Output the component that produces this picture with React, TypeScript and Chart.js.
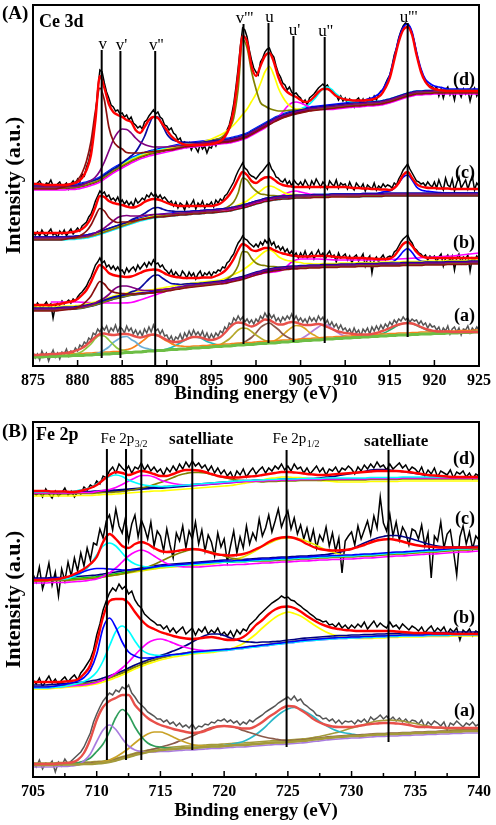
import React, { useEffect, useRef } from "react";
import { Chart, registerables } from "chart.js";

Chart.register(...registerables);

const SERIF = '"Liberation Serif", "Times New Roman", Times, serif';

/* ======================= Panel (A): Ce 3d ======================= */
const CE_MIN = 875;
const CE_MAX = 925;
const CE_GRID_STEP = 0.5; // fit / background / component grid (eV)
const CE_RAW_STEP = 0.25; // measured data step (eV)

// ---- spectrum (d)
const ceD_raw = [
  184,180,183,185,181,179,183,182,186,180,178,182,184,179,181,183,177,182,185,181,
  187,184,192,190,199,205,216,232,250,276,296,294,283,274,268,261,259,255,256,252,
  253,249,251,246,249,243,241,238,240,237,244,246,250,253,256,252,254,249,247,241,
  240,236,238,233,231,226,228,222,224,219,223,216,221,218,214,222,217,220,213,219,
  218,224,220,226,223,229,231,236,241,250,262,279,298,320,338,336,329,316,306,298,
  294,291,304,308,314,317,318,312,309,300,293,289,283,281,276,279,274,272,273,270,
  268,263,266,261,268,270,272,275,278,280,282,279,281,277,276,273,271,266,270,265,
  268,262,267,264,259,266,268,263,267,261,265,268,264,270,266,272,275,276,282,287,
  291,300,311,318,328,335,340,343,342,339,333,324,313,303,296,290,285,282,280,279,
  277,279,270,277,268,276,279,271,275,266,278,274,269,277,272,276,265,274,278,270,275,
];
const ceD_fit = [
  182,182,181.5,181,181,181,181,181,181.5,182.5,
  184,188,196,211,246,290,278,262,254,251,
  249,246,244,236,233,239,246,249,248,242,
  236,230,226,223,221.5,221,221,221,221,221.5,
  222,223,225,229,238,256,291,330,324,300,
  290,300,310,313,304,289,279,274,271,269,
  266,264,265,269,274,277,277,274,270,268,
  266.5,266,265.5,265.5,265.5,266,266.5,268,271,278,
  288,306,324,336,339,331,311,294,284,279,
  277,276,275.5,275,275,275,275,275,275,275,275,
];
const ceD_bg = [
  178,178,178,178,178,178,178,178,178.5,178.5,
  179,180,181,182.5,184,186,189,192,195,197.5,
  200,202.5,205,207,209,210.5,212,213,214,215,
  216,217,218,219,220,220.5,221,221.5,222,222.5,
  223,223.5,224,224.5,225,226,227,228.5,230,232.5,
  235,237.5,240,242.5,245,247,249,250.5,252,253,
  254,255,256,256.5,257,257.5,258,258.5,259,259.5,
  260,260.5,261,261,261.5,262,262,262.5,263,264,
  265,266.5,268,269.5,271,272,273,273,273.5,273.5,
  274,274,274,274,274,274,274,274,274,274,274,
];
const ceD_v = [1,2,3,5,8,14,25,43,72,93,78,48,31,23,18,12,9,7,5,4,3,2.5,2,1.5,1];
const ceD_v1 = [1,2,4,8,14,22,30,35,36,33,27,20,14,10,7,5,4,3,2,1.5,1,0.5,0];
const ceD_v2 = [1,2,3,5,10,17,27,34,33,24,14,8,5,3,2,1,0.5];
const ceD_v3 = [0.5,1,1.5,2,3,4,7,12,22,50,98,88,62,42,26,20,15,11,8,6,5,4,3,2,1.5,1];
const ceD_u = [1,2,3,4.5,6,8,11,14,18,22,26,31,36,44,53,56,45,30,19,11,6,3,2,1,0.5];
const ceD_u1 = [1,2,4,7,11,13,13,11,8,5,3,2,1,0.5];
const ceD_u2 = [1,2,4,8,13,18,19,16,11,7,4,2,1];
const ceD_u3 = [1,2,3,5,8,14,23,39,56,66,68,59,38,21,10,6,3,2,1];

// ---- spectrum (c)
const ceC_raw = [
  135,131,134,130,136,132,129,134,137,131,133,128,135,132,136,130,134,137,132,135,
  138,135,140,142,144,149,152,158,165,170,175,172,174,169,171,166,168,165,169,163,
  166,162,165,161,164,160,167,163,165,168,166,171,169,173,170,172,168,171,167,169,
  166,163,165,160,164,158,163,161,156,164,159,162,166,157,163,160,165,158,162,161,
  164,159,166,163,167,165,170,172,176,180,184,190,195,199,203,198,196,192,190,189,
  187,190,193,195,198,201,203,197,194,189,188,185,184,187,182,185,180,186,183,181,
  184,180,186,182,178,185,181,187,183,179,184,181,177,185,182,180,186,178,183,181,
  182,177,184,179,176,183,180,178,182,175,181,179,177,183,176,180,178,182,179,181,
  180,178,183,181,187,191,196,199,202,197,193,189,185,184,182,183,180,184,181,179,
  184,178,186,180,176,188,181,179,187,175,183,189,178,182,186,177,184,190,176,183,180,
];
const ceC_fit = [
  133,133,133,133,133,133,133,133,133.5,134,
  135,137,141,148,159,170,169,165,163,162,
  161,159.5,158.5,159,161,164,166,167,166.5,165,
  163,161.5,160.5,160,160,160,160,160,160,160,
  160,161,162.5,166,171,178,187,194,191,185,
  183,186,188.5,189,186.5,183,181,180,179.5,179,
  179,179,179,179,179,179,179,179,179,179,
  179,178.5,178,178,177.5,177.5,177,177,176.5,176.5,
  176,178,183,191,194,188,182,179.5,178.5,178,
  178,177.5,177.5,177.5,177,177,177,177,177,177,177,
];
const ceC_bg = [
  127,127,127,127,127,127,127,127,127.5,127.5,
  128,128.5,129,130,131,132.5,134,135.5,137,138.5,
  140,141.5,143,144.5,146,147,148,149,149.5,150,
  150.5,151,151.5,152,152,152.5,153,153,153.5,154,
  154,154.5,155,155.5,156,157,158,159,160,161.5,
  163,164,165.5,166,167,167.5,168,168,168.5,169,
  169,169,169,169.5,169.5,169.5,169.5,170,170,170,
  170,170,170,170,170.5,170.5,170.5,170.5,170.5,171,
  171,171,171,171,171,171,171,171,171,171,
  171,171,171,171,171,171,171,171,171,171,171,
];
const ceC_v = [0.5,1,1.5,2,4,7,12,20,26,22,14,9,6,5,3.5,2.5,2,1.5,1.2,1,0.7,0.5];
const ceC_v1 = [1,2,3,5,7,9,9,8,6,4.5,3,2.5,2,1.5,1,0.7,0.5];
const ceC_v2 = [1,1.5,2,3.5,5.5,7,7,5,3,2,1,0.5,0.3];
const ceC_v3 = [0.5,1,2,4,7,15,29,26,18,12,8,6,4.5,3.5,2.5,2,1.5,1,0.7,0.5];
const ceC_u = [1,2,3,4,6,8,10,12,13,11,8,5,3,2,1.5,1,0.5];
const ceC_u1 = [1,2,3,5,6,6,5,4,3,2,1.5,1,0.5];
const ceC_u2 = [1,1.5,2.5,3,3,2.5,1.5,1,0.5];
const ceC_u3 = [1,1.5,2,5,10,16,18,13,6,3,2,1.5,1,0.5];

// ---- spectrum (b)
const ceB_raw = [
  62,58,63,60,57,61,64,59,62,48,60,63,61,65,62,64,66,63,67,65,
  69,72,74,77,80,85,89,95,101,104,108,103,105,99,101,97,100,96,99,95,
  96,92,98,94,97,99,95,101,97,100,103,99,104,101,106,102,103,99,101,97,
  95,92,96,90,94,91,89,95,92,88,94,90,93,87,92,95,89,93,91,94,
  90,94,93,96,95,99,98,103,105,109,112,118,123,126,130,127,126,123,121,119,
  122,119,124,121,126,123,127,121,124,118,120,116,119,114,117,112,115,110,113,108,
  113,109,115,108,111,114,107,112,116,110,113,106,112,115,109,111,104,113,108,110,
  112,106,110,103,109,111,105,108,112,100,107,110,93,106,109,104,108,111,106,109,
  110,109,114,116,120,124,127,129,131,126,123,118,116,113,112,109,111,106,110,108,
  110,104,109,112,100,108,111,105,110,96,108,112,103,109,107,111,95,108,106,110,107,
];
const ceB_fit = [
  61,61,61,61,61,61.5,62,63,64,65,
  67,71,76,84,94,101,98,93,91,90,
  89.5,89,89.5,91,93,95,96,96.5,96,94,
  91.5,90,89,88.5,88,88,88,88,88.5,88.5,
  88.5,90,92,95,100,107,116,122,120,116,
  115,116.5,118,118,116,114,112.5,111.5,110.5,110,
  109.5,109.5,109.5,110,110,110,110,109.5,109,108.5,
  108.5,108,108,108,108,107.5,107.5,107,107,107,
  107.5,110,116,122,124,120,114,110,108.5,108,
  108,108,108,108,108,108,108,108,108,108,108,
];
const ceB_bg = [
  56,56,56,56,56,56,56.5,57,57,57,
  57.5,58,59,60,61,62.5,64,65.5,67,68,
  69,70,71,71.5,72,72.5,73,73.5,74.5,75,
  76,76.5,77.5,78,79,79.5,80,80.5,81,81.5,
  82,82.5,83,83.5,84.5,85.5,86.5,87.5,89,90.5,
  92,93,94.5,95,96,96.5,97,97.5,98,98,
  98.5,98.5,99,99,99,99.5,99.5,99.5,99.5,100,
  100,100,100,100.5,100.5,100.5,100.5,100.5,101,101,
  101,101,101,101.5,101.5,101.5,101.5,101.5,102,102,
  102,102,102,102.5,102.5,102.5,102.5,102.5,103,103,103,
];
const ceB_v = [0.5,1,2,4,7,11,18,23,19,12,8,6,4.5,3,2,1.7,1.5,1.2,1,0.7,0.5];
const ceB_v1 = [1,2,3,5,8,10,10,9,7,5,3,2,1.5,1,0.7,0.5];
const ceB_v2 = [1,2,4,8,12,15,14.5,11,7,4,2.5,1.5,1,0.7,0.5];
const ceB_v3 = [0.5,1,2,4,7,14,27,25,17,11,8,6,4.5,3.5,2.5,2,1.5,1,0.7,0.5];
const ceB_u = [1,2,3,4,5.5,7,9,12,15,17,18,15,10,7,5,4,3,2,1,0.5];
const ceB_u3 = [1,1.5,3,7,12,15,11,5,2.5,1.5,1,0.5];
// broad magenta (u') line of (b), 1 eV steps from 877 eV
const ceB_mag = [
  64,64,64,64,63.5,63,63,63,63,63.5,66,69,72,75,77,78.5,79.5,80.5,81.5,83,
  85,87,89,91,93,94,96,104,107,107,107,106.5,106,106,106,106,106,106,106.5,107,
  107.5,108,108.5,109,109.5,110,111,112,113,
];

// ---- spectrum (a)
const ceA_raw = [
  14,8,12,6,15,10,13,5,11,16,9,13,7,14,12,17,10,15,13,18,
  15,21,19,24,22,28,26,33,31,37,34,39,36,40,33,38,35,41,34,39,
  37,33,40,35,38,32,36,31,35,30,37,33,39,34,41,35,37,32,36,30,
  31,26,30,24,29,27,32,26,33,29,35,30,36,31,34,30,35,28,33,27,
  32,28,33,30,35,33,39,36,43,41,48,45,50,46,49,44,47,43,46,42,
  47,44,50,47,53,49,52,48,51,45,48,44,49,46,50,47,52,46,50,45,
  48,44,47,43,49,45,48,44,50,46,49,42,46,40,44,39,42,37,41,36,
  38,34,37,32,38,33,36,30,37,34,38,32,39,35,40,36,41,37,42,39,
  44,41,46,43,47,45,49,46,48,44,47,45,46,42,45,41,43,38,42,39,
  40,36,39,33,38,35,40,32,37,39,34,38,31,37,36,40,33,38,35,39,36,
];
const ceA_fit = [
  11,11,11.5,11.5,12,12,12.5,13,13.5,14.5,
  16,18,21,25,29,32,32.5,31.5,31,31.5,
  32,32,31,29.5,28.5,29.5,31,31.5,30.5,28.5,
  26,24.5,24,24.5,26,28,29,29,28,26.5,
  26,27,29,33,38,42,43.5,43,41,39.5,
  41,44,46.5,46,43.5,41.5,41.5,43,44,43.5,
  42,41,41,41.5,42,41,39,37,35,34,
  33,32.5,32,31.5,31.5,31.5,32,33,34.5,36,
  38,40,41.5,42.5,43,42.5,41,39,37,36,
  35,34.5,34.5,34.5,34,34,34,34,34,34,34,
];
const ceA_bg = [
  9,9,9,9.5,9.5,9.5,10,10,10,10.5,
  10.5,10.5,11,11,11.5,11.5,12,12,12.5,12.5,
  13,13.5,13.5,14,14,14.5,15,15,15.5,15.5,
  16,16.5,16.5,17,17,17.5,18,18,18.5,18.5,
  19,19.5,19.5,20,20,20.5,21,21,21.5,21.5,
  22,22.5,22.5,23,23,23.5,24,24,24.5,24.5,
  25,25.5,25.5,26,26,26.5,27,27,27.5,27.5,
  28,28,28.5,28.5,29,29,29.5,29.5,30,30,
  30.5,30.5,31,31,31,31.5,31.5,32,32,32,
  32.5,32.5,32.5,33,33,33,33.5,33.5,33.5,34,34,
];
const ceA_p1 = [1,2,4,7,11,16,19,18,14,9,5,3,1.5,0.5];
const ceA_p2 = [0.5,1,2,4,7,11,14,16,16,13,10,6,3.5,2,1,0.5];
const ceA_p3 = [0.5,1,2,4,7,10,13,14,13,10,7,4,2,1,0.5];
const ceA_p4 = [0.5,1,2,4,6,8.5,10.5,11,10.5,8.5,6,4,2,1,0.5];
const ceA_p5 = [0.5,1,2,4,7,11,15,17,16,13,9,5.5,3,1.5,0.5];
const ceA_p6 = [0.5,1,2,4,7,11,16,19,20,17,13,8,5,2.5,1,0.5];
const ceA_p7 = [0.5,1,2,4,7,11,14,16,15,12,8,5,2.5,1,0.5];
const ceA_p8 = [0.5,1,2,4,7,10,13,15,14,11,7,4,2,1,0.5];
const ceA_p9 = [0.5,1,2,3.5,5.5,8,10,11.5,12,11,9,6.5,4.5,2.5,1.5,0.5];

const ceMarkerE = [882.7, 884.8, 888.7, 898.6, 901.4, 904.2, 907.7, 917.0];
const ceMarkerLabel = ["v", "v'", "v''", "v'''", "u", "u'", "u''", "u'''"];
const ceMarkerTop = [316, 315, 315, 342, 343, 330, 329, 343];
const ceMarkerBot = [8, 8, 1, 22, 23, 24, 23, 29];
const ceSeriesLabel = ["(d)", "(c)", "(b)", "(a)"];
const ceSeriesLabelY = [281, 188, 118, 45];

/* ======================= Panel (B): Fe 2p ======================= */
const FE_MIN = 705;
const FE_MAX = 740;
const FE_GRID_STEP = 0.5;
const FE_RAW_STEP = 0.25;

// ---- spectrum (d)
const feD_raw = [
  287,282,285,280,288,283,279,286,281,284,289,282,286,280,285,283,290,287,292,290,
  296,293,301,299,306,310,304,313,309,306,311,304,310,308,314,307,312,306,310,305,
  308,302,309,305,311,306,313,308,315,310,316,311,314,309,312,306,311,304,309,303,
  307,301,305,298,306,302,308,300,305,309,303,307,310,304,309,306,311,308,313,307,
  311,306,313,308,310,304,309,303,307,311,305,309,302,308,306,310,304,309,307,311,
  308,303,310,306,312,308,313,309,315,310,312,307,313,308,311,314,309,312,306,310,
  308,304,310,301,307,303,309,300,306,304,302,307,299,305,303,306,300,304,298,303,
  301,
];
const feD_fit = [
  286,286,286,285.5,285.5,285.5,285,285.5,287,289,
  292,297,302,305,304,302,304,306,305,303,
  301,301,303,305.5,307,307,306.5,305,303,301,
  300,299.5,299.5,300,300.5,301,302,303,304,305,
  305,304.5,304,303,302.5,302,302,302.5,303,303.5,
  304,304.5,305,305.5,306,306,306,306,305.5,305,
  304,303,302,301.5,301,300.5,300,300,300,300,
  300,
];
const feD_bg = [
  284,284,284,284,284,284,284,284.5,284.5,284.5,
  285,285.5,285.5,286,286.5,287,287.5,288,288.5,289,
  289,289.5,290,290.5,291,291.5,292,292.5,293,293.5,
  294,294.5,295,295.5,295.5,296,296,296.5,296.5,297,
  297,297,297.5,297.5,297.5,297.5,298,298,298,298,
  298,298,298,298.5,298.5,298.5,298.5,298.5,299,299,
  299,299,299,299,299,299,299,299,299,299,
  299,
];
const feD_p1 = [0.5,1,2,4,7,11,14,15,13,9,6,3.5,2,1,0.5];
const feD_p2 = [0.5,1,2,3.5,6,9,11.5,13.5,13,11,8,5.5,3.5,2,1,0.5];
const feD_p3 = [0.5,1,2,3,4.5,6.5,8.5,10.5,12.5,13.5,14,13.5,12.5,10.5,8.5,6.5,4.5,3,2,1,0.5];
const feD_p4 = [0.5,1,2,3,4,5,5.5,6,6,5.5,5,4,3,2,1,0.5];
const feD_p5 = [0.5,1,1.5,2.5,3.5,4.5,5.5,6.5,7.5,8,8,7.5,6.5,5.5,4.5,3.5,2.5,1.5,1,0.5];

// ---- spectrum (c)
const feC_raw = [
  203,195,210,188,199,214,192,205,181,208,196,215,201,219,206,224,211,229,217,234,
  232,248,239,256,262,247,268,251,244,259,236,253,262,240,257,249,238,255,231,246,
  241,226,248,232,219,244,236,251,229,246,238,255,233,247,226,242,235,221,244,230,
  238,215,231,246,224,240,229,251,233,244,237,258,241,249,262,245,256,268,250,259,
  266,248,259,243,252,238,249,234,247,229,242,236,250,231,244,226,239,204,236,241,
  245,232,251,238,247,256,242,261,249,280,254,246,263,241,255,237,250,244,232,248,
  246,238,252,231,244,199,241,236,255,229,243,247,226,202,240,251,233,245,228,241,
  237,
];
const feC_fit = [
  197,197,197,197.5,198,199.5,201.5,204.5,208,213,
  220,235,243,238,231,229,233,235,233,229,
  226,225,225.5,226.5,227.5,228,227.5,226,224,222.5,
  222,221.5,222,223,225,228,231,235,238,239.5,
  240,239,236.5,233,230,228,227,226.5,226.5,227,
  228,230,232,234.5,236.5,237.5,238,237,235.5,233.5,
  232,231,230.5,230,229.5,229.5,229.5,229.5,229.5,229.5,
  229.5,
];
const feC_bg = [
  197,197,197,197.5,197.5,197.5,198,198.5,199,199.5,
  200,201,202,203,204,205,206,207,208,209,
  210,210.5,211,211.5,212,212.5,213,213.5,214,214.5,
  215,215,215.5,215.5,216,216.5,217,217,217.5,218,
  218,218.5,219,219,219.5,220,220,220.5,220.5,221,
  221,221.5,222,222,222.5,223,223.5,224,224,224.5,
  225,225.5,226,226,226.5,227,227.5,228,228,228.5,
  229,
];
const feC_p0 = [0.5,1,2,3.5,5.5,7,7.5,6.5,5,3.5,2,1,0.5];
const feC_p1 = [0.5,1.5,3.5,7,13,22,30,32,28,20,12,7,4,2,1,0.5];
const feC_p2 = [0.5,1,2.5,5,9,14,19,22,23,20,15,10,6,3.5,2,1,0.5];
const feC_p3 = [0.5,1,2,3,4.5,6.5,9,11.5,13.5,15,16,15.5,14,12,9.5,7,5,3.5,2,1,0.5];
const feC_p4 = [0.5,1,2,3.5,5.5,8,11,14.5,17.5,20,21.5,22,21.5,20,17.5,14.5,11,8,5.5,3.5,2,1,0.5];
const feC_p5 = [0.5,1,2,3.5,5,7.5,10,12.5,14.5,15.5,16,15.5,14.5,12.5,10,7.5,5,3.5,2,1,0.5];

// ---- spectrum (b)
const feB_raw = [
  97,93,99,90,96,101,94,98,92,97,100,95,99,102,97,104,108,113,118,127,
  142,153,167,176,184,189,186,193,188,191,183,186,177,172,169,163,160,157,155,152,
  152,148,151,145,149,144,147,150,143,146,149,142,148,145,150,143,147,144,149,142,
  145,141,146,140,147,143,148,146,152,155,158,162,165,168,171,174,176,178,181,179,
  180,177,176,173,171,168,166,163,161,158,157,155,156,152,153,150,154,149,152,148,
  152,149,153,150,155,148,152,156,150,154,151,149,155,150,152,148,153,150,147,151,
  149,146,150,144,148,151,145,149,146,150,143,148,145,149,137,147,144,148,141,146,
  144,
];
const feB_fit = [
  95,95,95,95,95,95.5,96,97.5,103,112,
  134,160,176,178,178,174,165,157,151,148,
  145,143,141,139.5,138.5,138,138.5,139.5,140,139,
  137.5,137,137.5,140,145,152,157,163,167.5,170,
  170.5,169,165.5,161,157,153.5,151,149,148,147,
  146.5,146,146,146,146,146,146,145.5,145,144.5,
  144,144,144,143.5,143.5,143.5,143,143,143,143,
  143,
];
const feB_bg = [
  90,90,90,90.5,91,91.5,92,92.5,93,94,
  95,97,99,101.5,104,107,110,112.5,115,117,
  119,120.5,122,123,124,125,125.5,126,126.5,127,
  127.5,128,129,129.5,130.5,131,132,132.5,133.5,134,
  135,135.5,136.5,137,137.5,138,138.5,139,139.5,139.5,
  140,140,140.5,140.5,141,141,141.5,141.5,142,142,
  142,142,142.5,142.5,142.5,142.5,143,143,143,143,
  143,
];
const feB_p1 = [0.5,1,2,3.5,6.5,13,28,52,60,48,31,18,11,6.5,4,2.5,1.5,1,0.5];
const feB_p2 = [1,2,3.5,6,11,20,33,45,48,40,27,16,9.5,6,3.5,2,1,0.5];
const feB_p3 = [0.5,1,2,3.5,6,9,13,17,20,21,20,17,13,9.5,6.5,4,2.5,1.5,1,0.5];
const feB_p4 = [0.5,1,2,3.5,5.5,8,11,13.5,14.5,14,12,9,6,4,2.5,1.5,1,0.5];
const feB_p5 = [0.5,1,2,3.5,6,9.5,14,19,24,28,31,32,30,26.5,22,17,12.5,8.5,5.5,3.5,2,1,0.5];

// ---- spectrum (a)
const feA_raw = [
  15,10,17,8,14,12,16,5,15,11,18,13,16,19,22,25,30,37,44,55,
  63,70,76,80,84,82,87,85,90,88,92,84,80,75,72,69,65,63,61,58,
  58,55,57,53,55,51,54,50,52,49,53,48,51,50,53,52,55,54,57,56,
  58,55,57,54,56,52,55,53,57,55,58,60,62,65,67,69,71,74,76,78,
  80,77,81,76,78,73,71,68,66,62,61,58,59,56,58,54,57,53,56,55,
  56,53,57,55,58,54,60,57,59,62,58,61,57,60,56,59,55,58,54,57,
  56,53,57,50,55,52,56,54,51,55,47,54,52,56,53,50,54,52,55,51,
  53,
];
const feA_fit = [
  13,13,13,13,13.5,14,14.5,17,24,38,
  57,70,76,79,82,82,72,65,59,55,
  52,50,48,46.5,45,44,44.5,46,48.5,50.5,
  51,50.5,49.5,48.5,48.5,51,55,60,64,68.5,
  71,70.5,67,63,58,54.5,52,50.5,50,50,
  50,51,52,53,53.5,54,54,53.5,53,52,
  50.5,50,50,49.5,49.5,49,49,49,49,49,
  49,
];
const feA_bg = [
  12,12,12,12,12.5,12.5,12.5,12.5,13,13,
  13.5,14,15,16.5,18.5,20,22,23.5,25,26,
  27,27.5,28,28.5,29,29,29.5,30,30.5,30.5,
  31,31.5,32,32,32.5,33,33.5,34,34.5,34.5,
  35,35.5,36,36.5,37.5,38,39,39.5,40,40.5,
  41,41,41.5,42,42.5,42.5,43,43,43.5,43.5,
  44,44,44.5,44.5,45,45,45.5,45.5,46,46,
  46,
];
const feA_p1 = [0.5,1.5,5,12,24,35,39,33,22,13,7,4,2,1,0.5];
const feA_p2 = [0.5,1.5,3,6,12,19,30,43,49,42,28,17,9,5,3,1.5,0.5];
const feA_p3 = [0.5,1,2,3.5,5.5,8.5,12,15.5,18,19,18,15.5,12,8.5,5.5,3.5,2,1,0.5];
const feA_p4 = [0.5,1,2,3,4.5,6.5,8.5,11,13.5,16,18,19,19,18,16,13.5,11,8.5,6,4,2.5,1.5,0.5];
const feA_p5 = [0.5,1,2,3.5,6,9.5,14,19.5,25,30,33,34,32,28,23,17.5,12.5,8.5,5.5,3.5,2,1,0.5];
const feA_p6 = [0.5,1,2,3,4.5,6,7.5,9,10.5,11.5,12,12,11.5,10.5,9,7.5,6,4.5,3,2,1,0.5];

const feMarkerE = [710.8, 712.3, 713.5, 717.5, 724.9, 732.9];
const feMarkerTop = [328, 328, 328, 328, 327, 327];
const feMarkerBot = [17, 17, 17, 27, 30, 35];
const feSeriesLabel = ["(d)", "(c)", "(b)", "(a)"];
const feSeriesLabelY = [313, 253, 154, 61];
const feNoteText = ["Fe 2p", "satelliate", "Fe 2p", "satelliate"];
const feNoteSub = ["3/2", "", "1/2", ""];
const feNoteE = [710.3, 718.2, 723.8, 733.5];
const feNoteY = [334, 333, 334, 331];

/* ======================= builders ======================= */
type Comp = { h: number[]; start: number; color: string; off: number };
type Spec = {
  raw: number[]; fit: number[]; bg: number[]; comps: Comp[];
  rawColor: string; fitColor: string; bgColor: string; bgWidth: number; bgOnTop?: boolean;
  extra?: { vals: number[]; start: number; step: number; color: string }[];
};

function pts(arr: number[], start: number, step: number) {
  return arr.map((v, i) => ({ x: start + i * step, y: v }));
}

function buildDatasets(specs: Spec[], gridStart: number, gridStep: number, rawStep: number) {
  const ds: any[] = [];
  const smooth = { cubicInterpolationMode: "monotone", pointRadius: 0, fill: false };
  specs.forEach((s) => {
    ds.push({ ...smooth, data: pts(s.fit, gridStart, gridStep), borderColor: s.fitColor, borderWidth: 2.4, order: 1 });
    s.comps.forEach((c) => {
      const data = s.bg.map((b, i) => {
        const x = gridStart + i * gridStep;
        const j = Math.round((x - c.start) / gridStep);
        const h = j >= 0 && j < c.h.length ? c.h[j] : 0;
        return { x, y: b + c.off + h };
      });
      ds.push({ ...smooth, data, borderColor: c.color, borderWidth: 1.7, order: 3 });
    });
    (s.extra || []).forEach((e) => {
      ds.push({ ...smooth, data: pts(e.vals, e.start, e.step), borderColor: e.color, borderWidth: 1.7, order: 3 });
    });
    ds.push({ ...smooth, data: pts(s.bg, gridStart, gridStep), borderColor: s.bgColor, borderWidth: s.bgWidth, order: s.bgOnTop ? 2 : 4 });
    ds.push({ data: pts(s.raw, gridStart, rawStep), borderColor: s.rawColor, borderWidth: 1.5, pointRadius: 0, fill: false, tension: 0, order: 5 });
  });
  return ds;
}

const ceSpectra: Spec[] = [
  {
    raw: ceD_raw, fit: ceD_fit, bg: ceD_bg, rawColor: "#000000", fitColor: "#ff0000", bgColor: "#7a0000", bgWidth: 2.5,
    comps: [
      { h: ceD_v, start: 878, color: "#8b1010", off: -1 },
      { h: ceD_v1, start: 881, color: "#800080", off: 1 },
      { h: ceD_v2, start: 885, color: "#0a0aa0", off: 2 },
      { h: ceD_v3, start: 893.5, color: "#808000", off: 0 },
      { h: ceD_u, start: 894, color: "#ffff00", off: 1 },
      { h: ceD_u1, start: 901.5, color: "#ff00ff", off: -2 },
      { h: ceD_u2, start: 905, color: "#00ffff", off: 2 },
      { h: ceD_u3, start: 912, color: "#0000ff", off: 3 },
    ],
  },
  {
    raw: ceC_raw, fit: ceC_fit, bg: ceC_bg, rawColor: "#000000", fitColor: "#ff0000", bgColor: "#1010a0", bgWidth: 2,
    comps: [
      { h: ceC_v, start: 878.5, color: "#8b1010", off: -1 },
      { h: ceC_v1, start: 882, color: "#800080", off: 1 },
      { h: ceC_v2, start: 886, color: "#0a0aa0", off: 2 },
      { h: ceC_v3, start: 895.5, color: "#808000", off: 0 },
      { h: ceC_u, start: 897.5, color: "#ffff00", off: 1 },
      { h: ceC_u1, start: 902, color: "#ff00ff", off: 0 },
      { h: ceC_u2, start: 906, color: "#00ffff", off: -1 },
      { h: ceC_u3, start: 914, color: "#0000ff", off: 2 },
    ],
  },
  {
    raw: ceB_raw, fit: ceB_fit, bg: ceB_bg, rawColor: "#000000", fitColor: "#ff0000", bgColor: "#0000a0", bgWidth: 2,
    comps: [
      { h: ceB_v, start: 879, color: "#8b1010", off: -1 },
      { h: ceB_v1, start: 882, color: "#800080", off: 1 },
      { h: ceB_v2, start: 886, color: "#0a0aa0", off: 2 },
      { h: ceB_v3, start: 895.5, color: "#808000", off: 0 },
      { h: ceB_u, start: 896.5, color: "#ffff00", off: 3 },
      { h: ceB_u3, start: 914.5, color: "#0000ff", off: 1 },
    ],
    extra: [{ vals: ceB_mag, start: 877, step: 1, color: "#ff00ff" }],
  },
  {
    raw: ceA_raw, fit: ceA_fit, bg: ceA_bg, rawColor: "#555555", fitColor: "#e8504a", bgColor: "#6dbe45", bgWidth: 3, bgOnTop: true,
    comps: [
      { h: ceA_p1, start: 879.5, color: "#8dc63f", off: 0 },
      { h: ceA_p2, start: 881.5, color: "#6baed6", off: 0 },
      { h: ceA_p3, start: 885, color: "#f7821b", off: 2 },
      { h: ceA_p4, start: 889.5, color: "#1fbfbf", off: 0 },
      { h: ceA_p5, start: 895, color: "#b5a82a", off: 0 },
      { h: ceA_p6, start: 897.5, color: "#8c5a4b", off: 0 },
      { h: ceA_p7, start: 901, color: "#d9a520", off: 0 },
      { h: ceA_p8, start: 904, color: "#b77fd9", off: 0 },
      { h: ceA_p9, start: 913, color: "#2ead6e", off: 0 },
    ],
  },
];

const feSpectra: Spec[] = [
  {
    raw: feD_raw, fit: feD_fit, bg: feD_bg, rawColor: "#000000", fitColor: "#ff0000", bgColor: "#0000a0", bgWidth: 2,
    comps: [
      { h: feD_p1, start: 708, color: "#00ffff", off: 1 },
      { h: feD_p2, start: 710, color: "#ff00ff", off: 0 },
      { h: feD_p3, start: 712.5, color: "#808000", off: -1 },
      { h: feD_p4, start: 721, color: "#ffff00", off: -3 },
      { h: feD_p5, start: 727.5, color: "#000080", off: 1 },
    ],
  },
  {
    raw: feC_raw, fit: feC_fit, bg: feC_bg, rawColor: "#000000", fitColor: "#ff0000", bgColor: "#00cc00", bgWidth: 2,
    comps: [
      { h: feC_p0, start: 707, color: "#0000ff", off: 1 },
      { h: feC_p1, start: 707.5, color: "#00ffff", off: 0 },
      { h: feC_p2, start: 709.5, color: "#ff00ff", off: -3 },
      { h: feC_p3, start: 712.5, color: "#808000", off: -1 },
      { h: feC_p4, start: 719.5, color: "#e8e800", off: -1 },
      { h: feC_p5, start: 728, color: "#000080", off: 2 },
    ],
  },
  {
    raw: feB_raw, fit: feB_fit, bg: feB_bg, rawColor: "#000000", fitColor: "#ff0000", bgColor: "#808000", bgWidth: 2,
    comps: [
      { h: feB_p1, start: 707, color: "#0000ff", off: 0 },
      { h: feB_p2, start: 708, color: "#00ffff", off: -1 },
      { h: feB_p3, start: 710, color: "#ff00ff", off: -1 },
      { h: feB_p4, start: 715, color: "#000080", off: 2 },
      { h: feB_p5, start: 719.5, color: "#ffff00", off: -2 },
    ],
  },
  {
    raw: feA_raw, fit: feA_fit, bg: feA_bg, rawColor: "#555555", fitColor: "#e8504a", bgColor: "#a59a3a", bgWidth: 2.5, bgOnTop: true,
    comps: [
      { h: feA_p1, start: 708, color: "#a97bdf", off: -2 },
      { h: feA_p2, start: 708, color: "#2e9e5b", off: 0 },
      { h: feA_p3, start: 710, color: "#c9a227", off: 0 },
      { h: feA_p4, start: 714, color: "#8b5a4a", off: 1 },
      { h: feA_p5, start: 720, color: "#2ab8c8", off: 0 },
      { h: feA_p6, start: 727.5, color: "#a39a3a", off: 2 },
    ],
  },
];

/* ======================= overlay plugin ======================= */
type PanelCfg = {
  panel: string; title: string;
  markerE: number[]; markerTop: number[]; markerBot: number[]; markerLabel?: string[];
  seriesLabel: string[]; seriesLabelY: number[];
  notes?: { text: string[]; sub: string[]; e: number[]; y: number[] };
  min: number; max: number; minorStep: number;
  panelDy: number; titleDy: number; titleDx: number;
};

function overlay(cfg: PanelCfg) {
  return {
    id: "overlay",
    afterDatasetsDraw(chart: any) {
      const { ctx, chartArea: ca, scales } = chart;
      const xs = scales.x, ys = scales.y;
      ctx.save();
      ctx.strokeStyle = "#000";
      ctx.fillStyle = "#000";
      ctx.lineWidth = 2;
      cfg.markerE.forEach((e, i) => {
        const px = xs.getPixelForValue(e);
        const top = ys.getPixelForValue(cfg.markerTop[i]);
        ctx.beginPath();
        ctx.moveTo(px, top);
        ctx.lineTo(px, ys.getPixelForValue(cfg.markerBot[i]));
        ctx.stroke();
        if (cfg.markerLabel) {
          ctx.font = `17px ${SERIF}`;
          ctx.textAlign = "center";
          ctx.textBaseline = "alphabetic";
          ctx.fillText(cfg.markerLabel[i], px + 1, top - 1);
        }
      });
      if (cfg.notes) {
        const n = cfg.notes;
        n.text.forEach((t, i) => {
          const px = xs.getPixelForValue(n.e[i]);
          const py = ys.getPixelForValue(n.y[i]);
          ctx.textBaseline = "alphabetic";
          if (n.sub[i]) {
            ctx.textAlign = "left";
            ctx.font = `15px ${SERIF}`;
            ctx.fillText(t, px, py);
            const w = ctx.measureText(t).width;
            ctx.font = `10px ${SERIF}`;
            ctx.fillText(n.sub[i], px + w + 0.5, py + 4);
          } else {
            ctx.textAlign = "center";
            ctx.font = `bold 17px ${SERIF}`;
            ctx.fillText(t, px, py);
          }
        });
      }
      ctx.font = `bold 18px ${SERIF}`;
      ctx.textAlign = "right";
      ctx.textBaseline = "alphabetic";
      cfg.seriesLabel.forEach((t, i) => {
        ctx.fillText(t, ca.right - 4, ys.getPixelForValue(cfg.seriesLabelY[i]));
      });
      ctx.restore();
    },
    afterDraw(chart: any) {
      const { ctx, chartArea: ca, scales } = chart;
      const xs = scales.x;
      ctx.save();
      ctx.strokeStyle = "#000";
      ctx.lineWidth = 2;
      ctx.strokeRect(ca.left, ca.top, ca.right - ca.left, ca.bottom - ca.top);
      // inward ticks on the energy axis
      ctx.lineWidth = 1.5;
      const n = Math.round((cfg.max - cfg.min) / cfg.minorStep);
      for (let k = 0; k <= n; k++) {
        const v = cfg.min + k * cfg.minorStep;
        const major = Math.abs((v - cfg.min) % 5) < 1e-6;
        if (!major && cfg.minorStep >= 5) continue;
        const px = xs.getPixelForValue(v);
        ctx.beginPath();
        ctx.moveTo(px, ca.bottom);
        ctx.lineTo(px, ca.bottom - (major ? 6 : 4));
        ctx.stroke();
      }
      ctx.fillStyle = "#000";
      ctx.textBaseline = "alphabetic";
      ctx.textAlign = "left";
      ctx.font = `bold 19px ${SERIF}`;
      ctx.fillText(cfg.panel, ca.left - 31, ca.top + cfg.panelDy);
      ctx.font = `bold 18px ${SERIF}`;
      ctx.fillText(cfg.title, ca.left + cfg.titleDx, ca.top + cfg.titleDy);
      ctx.restore();
    },
  };
}

function makeOptions(min: number, max: number, yMax: number, pad: any, xHeight: number, xTitlePad: number) {
  return {
    animation: false,
    responsive: false,
    events: [],
    layout: { padding: pad },
    plugins: { legend: { display: false }, tooltip: { enabled: false } },
    elements: { point: { radius: 0 } },
    scales: {
      x: {
        type: "linear",
        min,
        max,
        grid: { display: false, drawTicks: false },
        border: { display: false },
        ticks: {
          stepSize: 5,
          padding: 5,
          color: "#000",
          maxRotation: 0,
          autoSkip: false,
          font: { family: SERIF, size: 16, weight: "bold" },
        },
        title: {
          display: true,
          text: "Binding energy (eV)",
          color: "#000",
          font: { family: SERIF, size: 19, weight: "bold" },
          padding: { top: 0, bottom: xTitlePad },
        },
        afterFit: (s: any) => {
          s.height = xHeight;
        },
      },
      y: {
        type: "linear",
        min: 0,
        max: yMax,
        grid: { display: false, drawTicks: false },
        border: { display: false },
        ticks: { display: false },
        title: {
          display: true,
          text: "Intensity (a.u.)",
          color: "#000",
          font: { family: SERIF, size: 22, weight: "bold" },
          padding: { top: 1, bottom: 0 },
        },
        afterFit: (s: any) => {
          s.width = 33;
        },
      },
    },
  };
}

function Panel(props: { height: number; build: () => any }) {
  const ref = useRef<HTMLCanvasElement>(null);
  useEffect(() => {
    const chart = new Chart(ref.current as HTMLCanvasElement, props.build());
    return () => chart.destroy();
  }, []);
  return (
    <canvas
      ref={ref}
      width={496}
      height={props.height}
      style={{ display: "block", width: 496, height: props.height }}
    />
  );
}

export default function App() {
  const buildCe = () => ({
    type: "line",
    data: { datasets: buildDatasets(ceSpectra, CE_MIN, CE_GRID_STEP, CE_RAW_STEP) },
    options: makeOptions(CE_MIN, CE_MAX, 361, { left: 0, right: 15, top: 5, bottom: 0 }, 39, 0),
    plugins: [
      overlay({
        panel: "(A)", title: "Ce 3d",
        markerE: ceMarkerE, markerTop: ceMarkerTop, markerBot: ceMarkerBot, markerLabel: ceMarkerLabel,
        seriesLabel: ceSeriesLabel, seriesLabelY: ceSeriesLabelY,
        min: CE_MIN, max: CE_MAX, minorStep: 5,
        panelDy: 14, titleDy: 22, titleDx: 6,
      }),
    ],
  });
  const buildFe = () => ({
    type: "line",
    data: { datasets: buildDatasets(feSpectra, FE_MIN, FE_GRID_STEP, FE_RAW_STEP) },
    options: makeOptions(FE_MIN, FE_MAX, 355, { left: 0, right: 12, top: 17, bottom: 0 }, 48, 3),
    plugins: [
      overlay({
        panel: "(B)", title: "Fe 2p",
        markerE: feMarkerE, markerTop: feMarkerTop, markerBot: feMarkerBot,
        seriesLabel: feSeriesLabel, seriesLabelY: feSeriesLabelY,
        notes: { text: feNoteText, sub: feNoteSub, e: feNoteE, y: feNoteY },
        min: FE_MIN, max: FE_MAX, minorStep: 2.5,
        panelDy: 15, titleDy: 18, titleDx: 3,
      }),
    ],
  });
  return (
    <div style={{ position: "absolute", left: 0, top: 0, width: 496, height: 825, background: "#fff" }}>
      <Panel height={405} build={buildCe} />
      <Panel height={420} build={buildFe} />
    </div>
  );
}
